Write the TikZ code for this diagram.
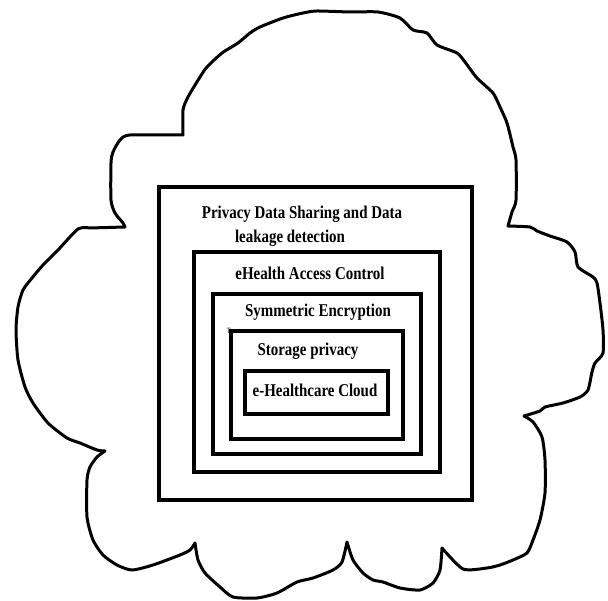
\documentclass[tikz,border=0pt]{standalone}
\usepackage{fontspec}
\newfontfamily\figfont[FakeStretch=0.83]{Liberation Serif}
\tikzset{
  cloudline/.style={draw=black, line width=3pt, line join=round, line cap=round},
  frame/.style={draw=black, line width=3.3pt},
  thickframe/.style={draw=black, line width=4pt},
  lbl/.style={anchor=base, inner sep=0pt, font=\figfont\bfseries\fontsize{18}{20}\selectfont}
}
\begin{document}
\begin{tikzpicture}[x=1pt, y=-1pt]
\useasboundingbox[fill=white] (0,0) rectangle (608,601);
% cloud outline
\draw[cloudline]
  plot[smooth, tension=0.4] coordinates {(125,227) (123,223) (115,213) (111,200) (111,163) (113,152) (120,140) (130,135) (183,135)}
  -- plot[smooth, tension=0.4] coordinates {(183,135) (183,110) (188,97) (200,77) (207,67) (222,53) (238,43) (250,33) (260,27) (283,18) (303,13) (317,11) (350,12) (378,12) (400,18) (413,30) (427,33) (437,45) (457,53) (465,62) (477,78) (493,93) (500,107) (507,123) (513,147) (516,160) (516,200) (512,212) (508,226)}
  -- plot[smooth, tension=0.4] coordinates {(508,226) (530,227) (537,231) (550,236) (567,242) (575,252) (578,267) (593,277) (597,283) (600,303) (603,330) (603,353) (595,363) (592,372) (588,390) (580,397) (563,403) (545,407) (540,411) (524,416)}
  -- plot[smooth, tension=0.4] coordinates {(524,416) (533,422) (542,437) (545,460) (545,493) (540,520) (533,540) (527,553) (513,560) (500,565) (487,568) (463,569) (442,548)}
  -- plot[smooth, tension=0.4] coordinates {(442,548) (440,570) (433,583) (420,590) (400,588) (383,582) (373,580) (363,573) (353,560) (347,542)}
  -- plot[smooth, tension=0.4] coordinates {(347,542) (342,562) (333,570) (313,578) (297,582) (277,593) (257,598) (233,597) (220,587) (205,573) (198,560) (195,543)}
  -- plot[smooth, tension=0.4] coordinates {(195,543) (190,550) (180,555) (153,565) (132,570) (117,565) (103,555) (93,540) (87,517) (87,480) (90,467) (97,457) (105,451)}
  -- plot[smooth, tension=0.4] coordinates {(105,451) (97,450) (80,443) (67,438) (48,423) (33,403) (25,387) (18,360) (16,330) (18,307) (23,290) (32,278) (43,265) (58,250) (78,229) (90,228)}
  -- cycle;
% stray small mark
\node[anchor=base, inner sep=0pt, font=\figfont\fontsize{8}{9}\selectfont] (tmark) at (229,334) {T};
% nested frames
\draw[frame] (159,187) rectangle (472,500);
\draw[frame] (194,252) rectangle (440,472);
\draw[thickframe] (213,294) rectangle (421,454);
\draw[thickframe] (231,331) rectangle (403,439);
\draw[thickframe] (245,371) rectangle (388,414);
% labels
\node[lbl] (l1) at (302,219) {Privacy Data Sharing and Data};
\node[lbl] (l2) at (290,243) {leakage detection};
\node[lbl] (l3) at (310,280) {eHealth Access Control};
\node[lbl] (l4) at (318,317) {Symmetric Encryption};
\node[lbl] (l5) at (308,356) {Storage privacy};
\node[lbl] (l6) at (315,397) {e-Healthcare Cloud};
\end{tikzpicture}
\end{document}
